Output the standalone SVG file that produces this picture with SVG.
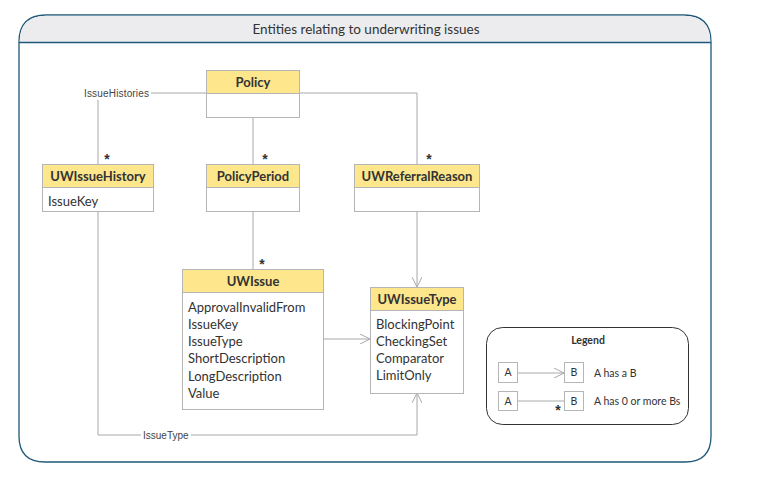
<svg xmlns="http://www.w3.org/2000/svg" width="782" height="480" viewBox="0 0 782 480">
<defs>
<style>
.frame{fill:#ffffff;stroke:#1f5878;stroke-width:1.3}
.titlebar{fill:#ececef;stroke:none}
.box{fill:#ffffff;stroke:#b5b5b5;stroke-width:1}
.hdr{fill:#fde68c;stroke:#b5b5b5;stroke-width:1}
.conn{fill:none;stroke:#a8a8a8;stroke-width:1}
.t{font-family:Lato,"Open Sans","Liberation Sans",sans-serif;fill:#333333}
.title{font-size:13.5px}
.name{font-size:13px;font-weight:bold;text-anchor:middle}
.attr{font-size:13px}
.lbl{font-family:"Liberation Sans",Arial,sans-serif;font-size:10px;fill:#444444}
.star{font-family:"Liberation Sans",Arial,sans-serif;font-size:14px;font-weight:bold;fill:#333333;text-anchor:middle}
.leg{font-size:10.5px}
</style>
<marker id="open" viewBox="0 0 10 10" refX="10" refY="5" markerWidth="10" markerHeight="10" markerUnits="userSpaceOnUse" orient="auto">
<path d="M0,0 L10,5 L0,10" fill="none" stroke="#a8a8a8" stroke-width="1"/>
</marker>
</defs>

<g id="frame">
<path class="frame" d="M19,42 Q19,15 46,15 H684 Q711,15 711,42 V436 Q711,462 685,462 H45 Q19,462 19,436 Z"/>
<path class="titlebar" d="M19.7,42 Q19.7,15.7 46,15.7 H684 Q710.3,15.7 710.3,42 Z"/>
<line x1="19" y1="42.5" x2="711" y2="42.5" stroke="#1f5878" stroke-width="1.3"/>
<text class="t title" x="366" y="34" text-anchor="middle">Entities relating to underwriting issues</text>
</g>

<g id="connectors">
<path class="conn" d="M206,93 H98 V164"/>
<path class="conn" d="M253,117 V164"/>
<path class="conn" d="M299,93 H417 V164"/>
<path class="conn" d="M253,211 V269"/>
<path class="conn" d="M417,211 V287" marker-end="url(#open)"/>
<path class="conn" d="M323,339 H370" marker-end="url(#open)"/>
<path class="conn" d="M98,211 V435 H417 V393" marker-end="url(#open)"/>
<rect x="82" y="87" width="69" height="13" fill="#ffffff"/>
<text class="lbl" x="84" y="97" textLength="65">IssueHistories</text>
<rect x="141" y="429" width="50" height="12" fill="#ffffff"/>
<text class="lbl" x="143" y="439">IssueType</text>
<text class="star" x="107" y="164">*</text>
<text class="star" x="265" y="164">*</text>
<text class="star" x="429" y="164">*</text>
<text class="star" x="262" y="269">*</text>
</g>

<g id="Policy">
<rect class="box" x="206.5" y="70.5" width="93" height="47"/>
<rect class="hdr" x="206.5" y="70.5" width="93" height="23"/>
<text class="t name" x="253" y="86.5">Policy</text>
</g>

<g id="UWIssueHistory">
<rect class="box" x="42.5" y="164.5" width="111" height="47"/>
<rect class="hdr" x="42.5" y="164.5" width="111" height="23"/>
<text class="t name" x="98" y="180.5">UWIssueHistory</text>
<text class="t attr" x="48" y="206">IssueKey</text>
</g>

<g id="PolicyPeriod">
<rect class="box" x="206.5" y="164.5" width="93" height="47"/>
<rect class="hdr" x="206.5" y="164.5" width="93" height="23"/>
<text class="t name" x="253" y="180.5">PolicyPeriod</text>
</g>

<g id="UWReferralReason">
<rect class="box" x="354.5" y="164.5" width="125" height="47"/>
<rect class="hdr" x="354.5" y="164.5" width="125" height="23"/>
<text class="t name" x="417" y="180.5">UWReferralReason</text>
</g>

<g id="UWIssue">
<rect class="box" x="182.5" y="269.5" width="141" height="140"/>
<rect class="hdr" x="182.5" y="269.5" width="141" height="23"/>
<text class="t name" x="253" y="285.5">UWIssue</text>
<text class="t attr" x="188" y="311.5">ApprovalInvalidFrom</text>
<text class="t attr" x="188" y="328.8">IssueKey</text>
<text class="t attr" x="188" y="346.1">IssueType</text>
<text class="t attr" x="188" y="363.4">ShortDescription</text>
<text class="t attr" x="188" y="380.7">LongDescription</text>
<text class="t attr" x="188" y="398">Value</text>
</g>

<g id="UWIssueType">
<rect class="box" x="370.5" y="287.5" width="93" height="106"/>
<rect class="hdr" x="370.5" y="287.5" width="93" height="23"/>
<text class="t name" x="417" y="303.5">UWIssueType</text>
<text class="t attr" x="376" y="329">BlockingPoint</text>
<text class="t attr" x="376" y="346">CheckingSet</text>
<text class="t attr" x="376" y="363">Comparator</text>
<text class="t attr" x="376" y="380">LimitOnly</text>
</g>

<g id="Legend">
<rect x="486.5" y="327.5" width="202" height="97" rx="16" ry="16" fill="#ffffff" stroke="#333333" stroke-width="1"/>
<text class="t" x="588" y="344" font-size="10.5" font-weight="bold" text-anchor="middle">Legend</text>
<rect class="box" x="498.5" y="362.5" width="19" height="20"/>
<text class="t leg" x="508" y="376" text-anchor="middle">A</text>
<rect class="box" x="564.5" y="362.5" width="19" height="20"/>
<text class="t leg" x="574" y="376" text-anchor="middle">B</text>
<path class="conn" d="M518,373 H564" marker-end="url(#open)"/>
<text class="t leg" x="594" y="376.5">A has a B</text>
<rect class="box" x="498.5" y="391.5" width="19" height="19"/>
<text class="t leg" x="508" y="405" text-anchor="middle">A</text>
<rect class="box" x="564.5" y="391.5" width="19" height="19"/>
<text class="t leg" x="574" y="405" text-anchor="middle">B</text>
<path class="conn" d="M518,401 H564"/>
<text class="star" x="558" y="415" font-size="12">*</text>
<text class="t leg" x="594" y="404.5">A has 0 or more Bs</text>
</g>
</svg>
